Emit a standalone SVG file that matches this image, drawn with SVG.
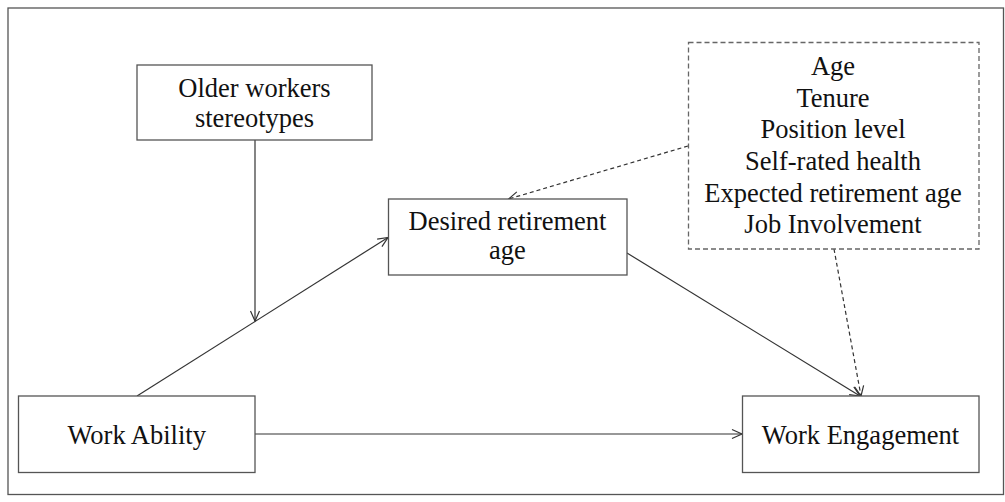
<svg xmlns="http://www.w3.org/2000/svg" width="1005" height="502" viewBox="0 0 1005 502">
<defs>
<style>
.box{fill:#fff;stroke:#555;stroke-width:1.3}
.dbox{fill:none;stroke:#666;stroke-width:1.3;stroke-dasharray:5,3}
.lbl{font-family:"Liberation Serif","Times New Roman",serif;font-size:26.5px;fill:#111;text-anchor:middle}
.conn{stroke:#333;stroke-width:1.2;fill:none}
.dash{stroke-dasharray:4,3}
</style>
<marker id="arr" markerWidth="14" markerHeight="12" refX="11" refY="6" orient="auto" markerUnits="userSpaceOnUse">
<path d="M1,1.5 L11,6 L1,10.5" fill="none" stroke="#333" stroke-width="1.2"/>
</marker>
</defs>
<rect x="0" y="0" width="1005" height="502" fill="#fff"/>
<rect x="8" y="8" width="995.5" height="486.5" fill="none" stroke="#555" stroke-width="1.3"/>
<g id="connectors">
<line class="conn" x1="255" y1="140" x2="255" y2="321" marker-end="url(#arr)"/>
<line class="conn" x1="137" y1="396" x2="388" y2="237.5" marker-end="url(#arr)"/>
<line class="conn" x1="627" y1="253" x2="860" y2="396" marker-end="url(#arr)"/>
<line class="conn" x1="255" y1="434" x2="742" y2="434" marker-end="url(#arr)"/>
<line class="conn dash" x1="688" y1="146" x2="508.5" y2="199" marker-end="url(#arr)"/>
<line class="conn dash" x1="834" y1="249" x2="861" y2="396" marker-end="url(#arr)"/>
</g>
<g id="stereotypes">
<rect class="box" x="137" y="65" width="235" height="75"/>
<text class="lbl" x="254.5" y="97">Older workers</text>
<text class="lbl" x="254.5" y="127">stereotypes</text>
</g>
<g id="controls">
<rect class="dbox" x="688.5" y="42.5" width="290.5" height="206.5"/>
<text class="lbl" x="833" y="75">Age</text>
<text class="lbl" x="833" y="106.7">Tenure</text>
<text class="lbl" x="833" y="138.3">Position level</text>
<text class="lbl" x="833" y="170">Self-rated health</text>
<text class="lbl" x="833" y="201.6">Expected retirement age</text>
<text class="lbl" x="833" y="233.3">Job Involvement</text>
</g>
<g id="desired">
<rect class="box" x="388.5" y="199" width="238.5" height="76"/>
<text class="lbl" x="507.5" y="230">Desired retirement</text>
<text class="lbl" x="507.5" y="259">age</text>
</g>
<g id="workability">
<rect class="box" x="18.5" y="396" width="236.5" height="76.5"/>
<text class="lbl" x="136.7" y="444">Work Ability</text>
</g>
<g id="engagement">
<rect class="box" x="742.5" y="396" width="236.5" height="76.5"/>
<text class="lbl" x="860.5" y="443.5">Work Engagement</text>
</g>
</svg>
